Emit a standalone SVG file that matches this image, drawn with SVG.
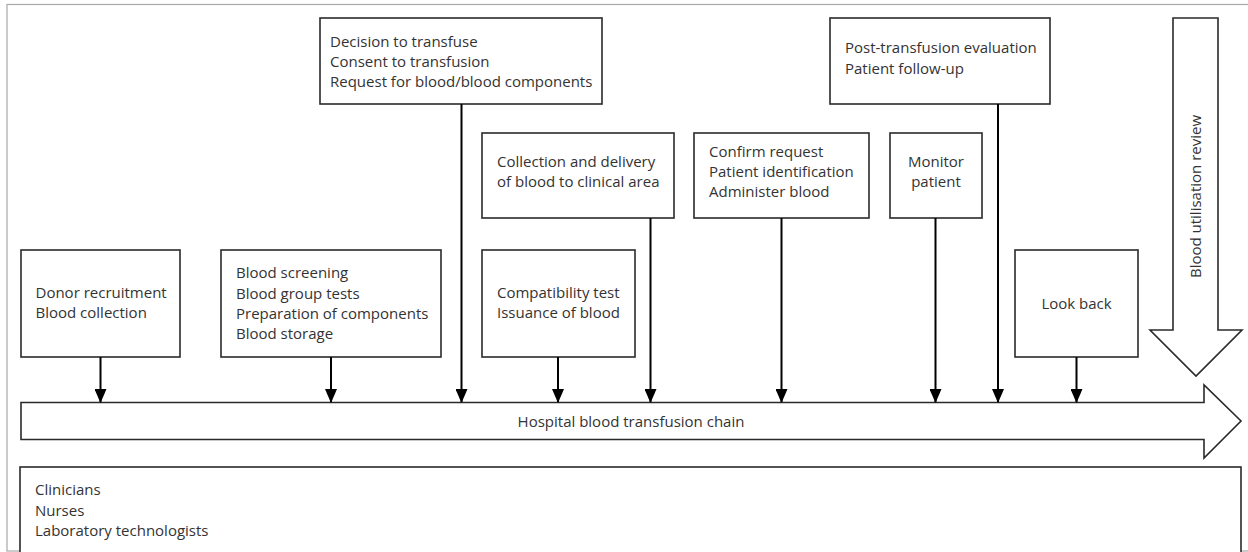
<svg xmlns="http://www.w3.org/2000/svg" width="1248" height="552" viewBox="0 0 1248 552">
  <style>
    .box { fill: #ffffff; stroke: #2a2a2a; stroke-width: 1.6; }
    .big { fill: #ffffff; stroke: #2a2a2a; stroke-width: 1.6; stroke-linejoin: miter; }
    .t { font-family: "Open Sans", "Liberation Sans", Arial, sans-serif; font-size: 15px; fill: #333333; }
    .c { text-anchor: middle; }
    .conn { stroke: #000000; stroke-width: 2; fill: none; }
  </style>
  <defs>
    <marker id="ah" viewBox="0 0 14 12" refX="13" refY="6" markerWidth="14" markerHeight="12" markerUnits="userSpaceOnUse" orient="auto">
      <path d="M0,0 L14,6 L0,12 Z" fill="#000000"/>
    </marker>
  </defs>

  <rect x="7" y="4.5" width="1260" height="546.5" fill="#ffffff" stroke="#a8a8a8" stroke-width="1.2"/>

  <g id="chain">
    <polygon class="big" points="21,402.5 1204,402.5 1204,385 1241,421 1204,458 1204,439.5 21,439.5"/>
    <text class="t c" x="631" y="426.5">Hospital blood transfusion chain</text>
  </g>

  <g id="util-review">
    <polygon class="big" points="1173,18 1218,18 1218,330 1242,330 1196,376 1150,330 1173,330"/>
    <text class="t c" transform="translate(1201,196.5) rotate(-90)">Blood utilisation review</text>
  </g>

  <g id="decision">
    <rect class="box" x="320" y="18" width="282" height="86"/>
    <text class="t" x="330" y="46.5">Decision to transfuse</text>
    <text class="t" x="330" y="67">Consent to transfusion</text>
    <text class="t" x="330" y="87">Request for blood/blood components</text>
  </g>

  <g id="post-transfusion">
    <rect class="box" x="830" y="18" width="220" height="86"/>
    <text class="t" x="845" y="53">Post-transfusion evaluation</text>
    <text class="t" x="845" y="74">Patient follow-up</text>
  </g>

  <g id="collection">
    <rect class="box" x="482" y="133" width="192" height="85"/>
    <text class="t" x="497" y="167">Collection and delivery</text>
    <text class="t" x="497" y="187">of blood to clinical area</text>
  </g>

  <g id="confirm">
    <rect class="box" x="694" y="133" width="175" height="85"/>
    <text class="t" x="709" y="157">Confirm request</text>
    <text class="t" x="709" y="177">Patient identification</text>
    <text class="t" x="709" y="197">Administer blood</text>
  </g>

  <g id="monitor">
    <rect class="box" x="890" y="133" width="92" height="85"/>
    <text class="t c" x="936" y="167">Monitor</text>
    <text class="t c" x="936" y="187">patient</text>
  </g>

  <g id="donor">
    <rect class="box" x="21" y="250" width="159" height="107"/>
    <text class="t" x="35.5" y="298">Donor recruitment</text>
    <text class="t" x="35.5" y="318">Blood collection</text>
  </g>

  <g id="screening">
    <rect class="box" x="221" y="250" width="220" height="107"/>
    <text class="t" x="236" y="278">Blood screening</text>
    <text class="t" x="236" y="298.5">Blood group tests</text>
    <text class="t" x="236" y="319">Preparation of components</text>
    <text class="t" x="236" y="339">Blood storage</text>
  </g>

  <g id="compatibility">
    <rect class="box" x="482" y="250" width="153" height="107"/>
    <text class="t" x="497" y="298">Compatibility test</text>
    <text class="t" x="497" y="318">Issuance of blood</text>
  </g>

  <g id="lookback">
    <rect class="box" x="1015" y="250" width="123" height="107"/>
    <text class="t c" x="1076.5" y="309">Look back</text>
  </g>

  <g id="staff">
    <rect class="box" x="20" y="467" width="1221" height="100"/>
    <text class="t" x="35" y="495">Clinicians</text>
    <text class="t" x="35" y="515.5">Nurses</text>
    <text class="t" x="35" y="535.5">Laboratory technologists</text>
  </g>

  <g id="connectors">
    <line class="conn" x1="100.5" y1="357" x2="100.5" y2="402" marker-end="url(#ah)"/>
    <line class="conn" x1="331" y1="357" x2="331" y2="402" marker-end="url(#ah)"/>
    <line class="conn" x1="461.5" y1="104" x2="461.5" y2="402" marker-end="url(#ah)"/>
    <line class="conn" x1="558" y1="357" x2="558" y2="402" marker-end="url(#ah)"/>
    <line class="conn" x1="650.5" y1="218" x2="650.5" y2="402" marker-end="url(#ah)"/>
    <line class="conn" x1="781.5" y1="218" x2="781.5" y2="402" marker-end="url(#ah)"/>
    <line class="conn" x1="935.5" y1="218" x2="935.5" y2="402" marker-end="url(#ah)"/>
    <line class="conn" x1="998" y1="104" x2="998" y2="402" marker-end="url(#ah)"/>
    <line class="conn" x1="1076.5" y1="357" x2="1076.5" y2="402" marker-end="url(#ah)"/>
  </g>
</svg>
